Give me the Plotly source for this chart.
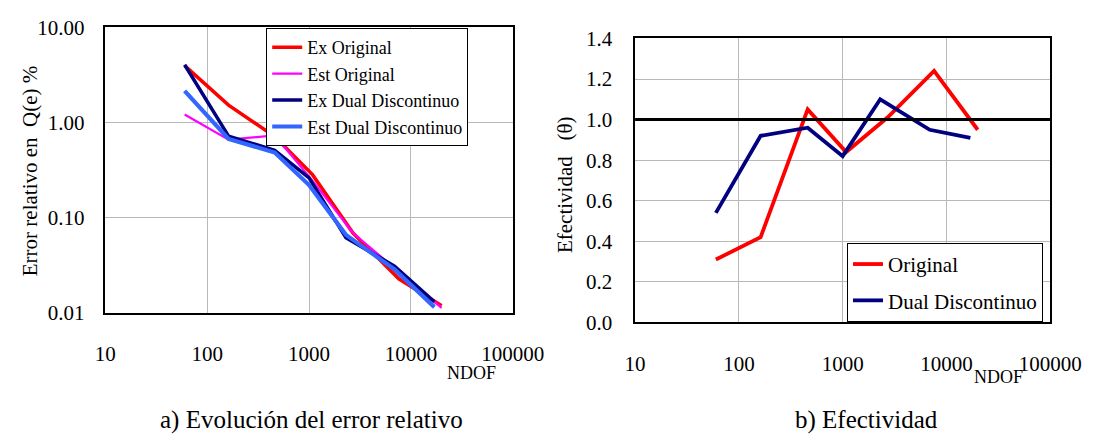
import plotly.graph_objects as go

W, H = 1114, 447

# ---------------- data ----------------
ndof_original = [60, 162, 460, 1080, 2700, 7600, 20000]
ndof_dual = [60, 162, 460, 1000, 2300, 6900, 17000]

ex_original = [3.94, 1.52, 0.71, 0.283, 0.069, 0.0228, 0.0119]
est_original = [1.21, 0.66, 0.73, 0.245, 0.069, 0.027, 0.0113]
ex_dual = [4.03, 0.718, 0.509, 0.262, 0.0615, 0.031, 0.0131]
est_dual = [2.14, 0.671, 0.483, 0.220, 0.066, 0.0287, 0.0115]

eff_original = [0.31, 0.42, 1.05, 0.84, 1.01, 1.24, 0.95]
eff_dual = [0.54, 0.92, 0.96, 0.82, 1.10, 0.95, 0.91]
eff_reference = 1.0

x_ticks = [10, 100, 1000, 10000, 100000]
x_tick_labels = ["10", "100", "1000", "10000", "100000"]
y1_ticks = [0.01, 0.1, 1, 10]
y1_tick_labels = ["0.01", "0.10", "1.00", "10.00"]
y2_ticks = [0.0, 0.2, 0.4, 0.6, 0.8, 1.0, 1.2, 1.4]

FONT = "Times New Roman, Liberation Serif, serif"


def px_x(p):
    return p / W


def px_y(p):
    return 1 - p / H


fig = go.Figure()

# left chart
fig.add_trace(go.Scatter(x=ndof_original, y=ex_original, mode="lines", name="Ex Original",
                         line=dict(color="#ff0000", width=3.5), xaxis="x", yaxis="y", legend="legend"))
fig.add_trace(go.Scatter(x=ndof_original, y=est_original, mode="lines", name="Est Original",
                         line=dict(color="#ff00ff", width=2.2), xaxis="x", yaxis="y", legend="legend"))
fig.add_trace(go.Scatter(x=ndof_dual, y=ex_dual, mode="lines", name="Ex Dual Discontinuo",
                         line=dict(color="#000080", width=3.5), xaxis="x", yaxis="y", legend="legend"))
fig.add_trace(go.Scatter(x=ndof_dual, y=est_dual, mode="lines", name="Est Dual Discontinuo",
                         line=dict(color="#3366ff", width=4.2), xaxis="x", yaxis="y", legend="legend"))

# right chart
fig.add_trace(go.Scatter(x=ndof_original, y=eff_original, mode="lines", name="Original",
                         line=dict(color="#ff0000", width=3.8), xaxis="x2", yaxis="y2",
                         legend="legend2", legendgroup="o"))
fig.add_trace(go.Scatter(x=ndof_dual, y=eff_dual, mode="lines", name="Dual Discontinuo",
                         line=dict(color="#000080", width=3.8), xaxis="x2", yaxis="y2",
                         legend="legend2", legendgroup="d"))

axis_common = dict(showline=True, mirror=True, linecolor="black", linewidth=1.5,
                   showgrid=True, gridcolor="#b8b8b8", gridwidth=1, zeroline=False,
                   ticks="", tickfont=dict(family=FONT, size=21, color="black"))

fig.update_layout(
    width=W, height=H,
    margin=dict(l=0, r=0, t=0, b=0),
    paper_bgcolor="white", plot_bgcolor="white",
    font=dict(family=FONT, color="black"),
    xaxis=dict(domain=[px_x(99), px_x(522)], type="log", range=[1, 5],
               tickvals=x_ticks, ticktext=x_tick_labels, anchor="y",
               ticklabelstandoff=21, **axis_common),
    yaxis=dict(domain=[px_y(318), px_y(16)], type="log", range=[-2, 1],
               tickvals=y1_ticks, ticktext=y1_tick_labels, anchor="x",
               ticklabelstandoff=15, **axis_common),
    xaxis2=dict(domain=[px_x(649), px_x(1080)], type="log", range=[1, 5],
                tickvals=x_ticks, ticktext=x_tick_labels, anchor="y2",
                ticklabelstandoff=22, **axis_common),
    yaxis2=dict(domain=[px_y(328), px_y(28)], range=[0, 1.4],
                tickvals=y2_ticks, tickformat=".1f", anchor="x2",
                ticklabelstandoff=17, **axis_common),
    legend=dict(x=px_x(266), y=px_y(17), xanchor="left", yanchor="top",
                bgcolor="white", bordercolor="black", borderwidth=1,
                font=dict(family=FONT, size=18, color="black"),
                tracegroupgap=0, itemwidth=30),
    legend2=dict(x=px_x(869), y=px_y(244), xanchor="left", yanchor="top",
                 bgcolor="white", bordercolor="black", borderwidth=1,
                 font=dict(family=FONT, size=21, color="black"),
                 traceorder="grouped", tracegroupgap=6, itemwidth=30),
    showlegend=True,
)

# reference line theta = 1
fig.add_shape(type="line", xref="x2 domain", yref="y2", x0=0, x1=1,
              y0=eff_reference, y1=eff_reference, line=dict(color="black", width=3), layer="above")

NB = "\u00a0"
annotations = [
    dict(text="Error relativo en " + NB + "Q(e) %", x=px_x(21), y=px_y(168), textangle=-90, size=21),
    dict(text="Efectividad" + NB * 3 + "(θ)", x=px_x(576), y=px_y(182), textangle=-90, size=21),
    dict(text="NDOF", x=px_x(479), y=px_y(381), textangle=0, size=18),
    dict(text="NDOF", x=px_x(1026), y=px_y(386), textangle=0, size=18),
    dict(text="a) Evolución del error relativo", x=px_x(313), y=px_y(431), textangle=0, size=25),
    dict(text="b) Efectividad", x=px_x(889), y=px_y(431), textangle=0, size=25),
]
for a in annotations:
    fig.add_annotation(text=a["text"], x=a["x"], y=a["y"], xref="paper", yref="paper",
                       xanchor="center", yanchor="middle", showarrow=False,
                       textangle=a["textangle"],
                       font=dict(family=FONT, size=a["size"], color="black"))

fig.write_html("out.html")
